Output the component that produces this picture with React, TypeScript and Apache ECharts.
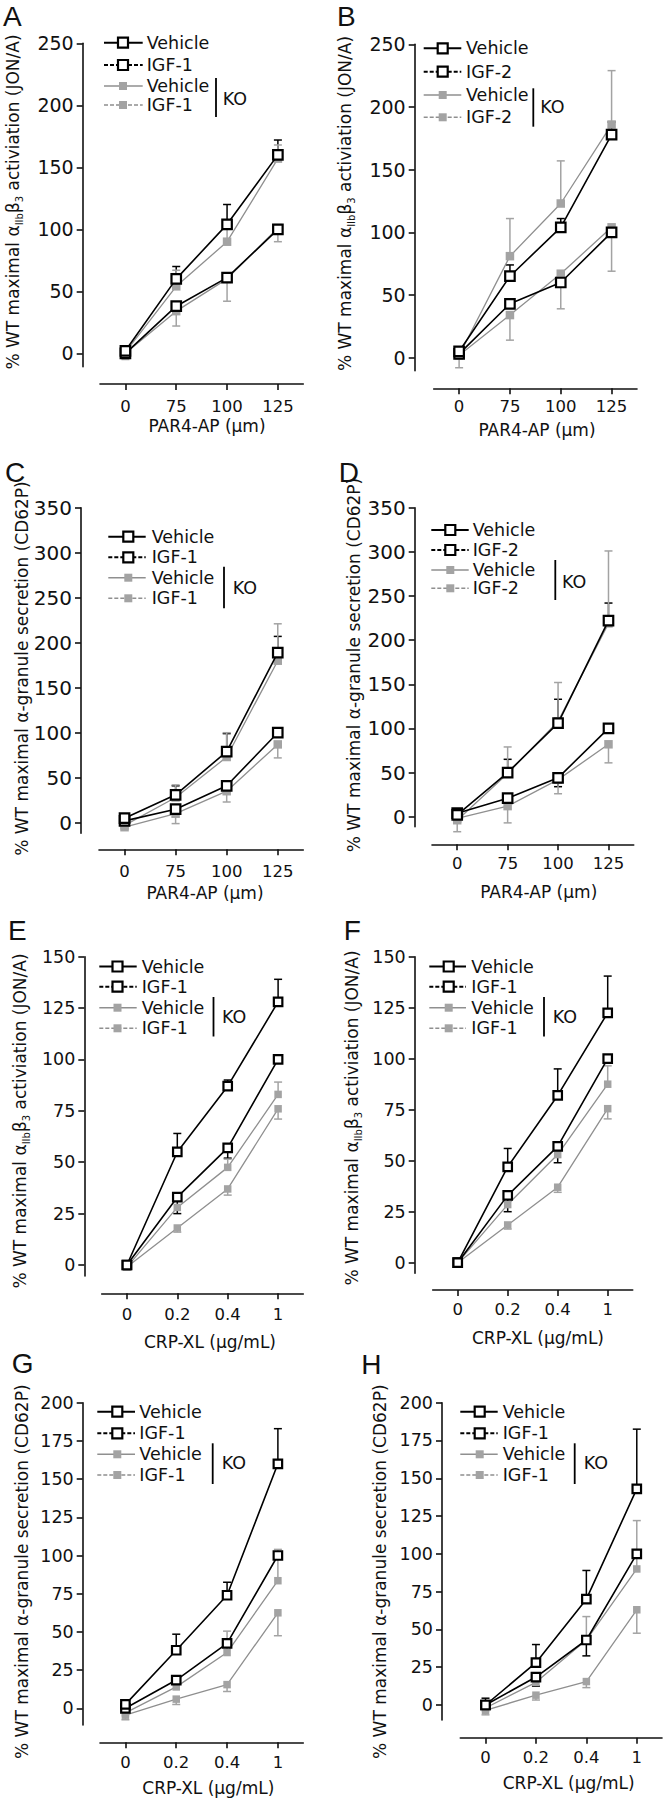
import React, { useEffect, useRef } from "react";
import * as echarts from "echarts";

const FONT = "DejaVu Sans";
const LETTER_FONT = "Liberation Sans";
const BLACK = "#111111";
const GRAY_FILL = "#a3a3a3";
const GRAY_LINE = "#8f8f8f";

// ---------- categories & ticks ----------
const PAR4_AP_DOSES = ["0", "75", "100", "125"];
const CRP_XL_DOSES = ["0", "0.2", "0.4", "1"];
const TICKS_250 = [0, 50, 100, 150, 200, 250];
const TICKS_350 = [0, 50, 100, 150, 200, 250, 300, 350];
const TICKS_150 = [0, 25, 50, 75, 100, 125, 150];
const TICKS_200 = [0, 25, 50, 75, 100, 125, 150, 175, 200];

// ---------- data (errors: + up, - down, 0 none) ----------
// A
const A_WT_VEHICLE = [0, 38, 61, 100];
const A_WT_VEHICLE_ERR = [0, 0, 0, 0];
const A_WT_IGF = [2, 60, 104, 160];
const A_WT_IGF_ERR = [0, 10, 16, 12];
const A_KO_VEHICLE = [0, 34, 60, 101];
const A_KO_VEHICLE_ERR = [-5, -12, -18, -11];
const A_KO_IGF = [1, 54, 90, 157];
const A_KO_IGF_ERR = [0, 13, 10, 11];
// B
const B_WT_VEHICLE = [3, 43, 60, 100];
const B_WT_VEHICLE_ERR = [0, 0, 0, 0];
const B_WT_IGF = [5, 65, 104, 178];
const B_WT_IGF_ERR = [0, 9, 7, 10];
const B_KO_VEHICLE = [2, 34, 67, 104];
const B_KO_VEHICLE_ERR = [-10, -20, -28, -35];
const B_KO_IGF = [2, 81, 123, 186];
const B_KO_IGF_ERR = [0, 30, 34, 43];
// C
const C_WT_VEHICLE = [2, 15, 41, 100];
const C_WT_VEHICLE_ERR = [0, 0, 0, 0];
const C_WT_IGF = [5, 31, 79, 189];
const C_WT_IGF_ERR = [0, 10, 20, 18];
const C_KO_VEHICLE = [-5, 10, 35, 87];
const C_KO_VEHICLE_ERR = [0, -11, -12, -15];
const C_KO_IGF = [-3, 28, 73, 180];
const C_KO_IGF_ERR = [0, 14, 27, 41];
// D
const D_WT_VEHICLE = [4, 21, 44, 100];
const D_WT_VEHICLE_ERR = [0, 0, -10, 0];
const D_WT_IGF = [2, 50, 106, 222];
const D_WT_IGF_ERR = [0, 15, 27, 20];
const D_KO_VEHICLE = [-2, 12, 42, 82];
const D_KO_VEHICLE_ERR = [-15, -19, -16, -21];
const D_KO_IGF = [-4, 49, 108, 219];
const D_KO_IGF_ERR = [0, 30, 44, 82];
// E
const E_WT_VEHICLE = [0, 33, 57, 100];
const E_WT_VEHICLE_ERR = [0, -8, -5, 0];
const E_WT_IGF = [0, 55, 87, 128];
const E_WT_IGF_ERR = [0, 9, 3, 11];
const E_KO_VEHICLE = [-1, 18, 37, 76];
const E_KO_VEHICLE_ERR = [0, -2, -3, -5];
const E_KO_IGF = [-1, 28, 47.5, 83];
const E_KO_IGF_ERR = [0, 0, 4, 6];
// F
const F_WT_VEHICLE = [0, 33, 57, 100];
const F_WT_VEHICLE_ERR = [0, -8, -8, 0];
const F_WT_IGF = [0, 47, 82, 122.5];
const F_WT_IGF_ERR = [0, 9, 13, 18];
const F_KO_VEHICLE = [0, 18.5, 37, 75.5];
const F_KO_VEHICLE_ERR = [0, -2, -2.5, -5];
const F_KO_IGF = [0, 28.5, 53, 87.5];
const F_KO_IGF_ERR = [0, 0, 0, 9];
// G
const G_WT_VEHICLE = [0, 18.5, 42.5, 100];
const G_WT_VEHICLE_ERR = [0, 0, 0, 0];
const G_WT_IGF = [2.6, 38, 74, 160];
const G_WT_IGF_ERR = [0, 10.5, 8.5, 23];
const G_KO_VEHICLE = [-4.5, 6, 15.5, 62.5];
const G_KO_VEHICLE_ERR = [-3, -3.5, -4.5, -15];
const G_KO_IGF = [-3, 14, 36.5, 83.5];
const G_KO_IGF_ERR = [0, 0, 14, 20.5];
// H
const H_WT_VEHICLE = [0, 18.5, 43, 100];
const H_WT_VEHICLE_ERR = [0, -6, -10.5, 0];
const H_WT_IGF = [0, 28, 70, 143];
const H_WT_IGF_ERR = [4.5, 12, 19, 39.5];
const H_KO_VEHICLE = [-3.5, 6.5, 15.5, 63];
const H_KO_VEHICLE_ERR = [-3, -3.2, -4, -15.5];
const H_KO_IGF = [-2, 15, 43, 90];
const H_KO_IGF_ERR = [0, 0, 15.5, 32];

const JON_NAME = "{n|% WT maximal α}{s|IIb}{n|β}{s|3}{n| activiation (JON/A)}";
const CD62P_NAME = "{n|% WT maximal α-granule secretion (CD62P)}";
const PAR4_NAME = "PAR4-AP (µm)";
const CRP_NAME = "CRP-XL (µg/mL)";

const PANELS = [
  { letter: "A", doses: PAR4_AP_DOSES, xName: PAR4_NAME, yName: JON_NAME, ticks: TICKS_250, treatment: "IGF-1",
    wv: A_WT_VEHICLE, wve: A_WT_VEHICLE_ERR, wi: A_WT_IGF, wie: A_WT_IGF_ERR, kv: A_KO_VEHICLE, kve: A_KO_VEHICLE_ERR, ki: A_KO_IGF, kie: A_KO_IGF_ERR },
  { letter: "B", doses: PAR4_AP_DOSES, xName: PAR4_NAME, yName: JON_NAME, ticks: TICKS_250, treatment: "IGF-2",
    wv: B_WT_VEHICLE, wve: B_WT_VEHICLE_ERR, wi: B_WT_IGF, wie: B_WT_IGF_ERR, kv: B_KO_VEHICLE, kve: B_KO_VEHICLE_ERR, ki: B_KO_IGF, kie: B_KO_IGF_ERR },
  { letter: "C", doses: PAR4_AP_DOSES, xName: PAR4_NAME, yName: CD62P_NAME, ticks: TICKS_350, treatment: "IGF-1",
    wv: C_WT_VEHICLE, wve: C_WT_VEHICLE_ERR, wi: C_WT_IGF, wie: C_WT_IGF_ERR, kv: C_KO_VEHICLE, kve: C_KO_VEHICLE_ERR, ki: C_KO_IGF, kie: C_KO_IGF_ERR },
  { letter: "D", doses: PAR4_AP_DOSES, xName: PAR4_NAME, yName: CD62P_NAME, ticks: TICKS_350, treatment: "IGF-2",
    wv: D_WT_VEHICLE, wve: D_WT_VEHICLE_ERR, wi: D_WT_IGF, wie: D_WT_IGF_ERR, kv: D_KO_VEHICLE, kve: D_KO_VEHICLE_ERR, ki: D_KO_IGF, kie: D_KO_IGF_ERR },
  { letter: "E", doses: CRP_XL_DOSES, xName: CRP_NAME, yName: JON_NAME, ticks: TICKS_150, treatment: "IGF-1",
    wv: E_WT_VEHICLE, wve: E_WT_VEHICLE_ERR, wi: E_WT_IGF, wie: E_WT_IGF_ERR, kv: E_KO_VEHICLE, kve: E_KO_VEHICLE_ERR, ki: E_KO_IGF, kie: E_KO_IGF_ERR },
  { letter: "F", doses: CRP_XL_DOSES, xName: CRP_NAME, yName: JON_NAME, ticks: TICKS_150, treatment: "IGF-1",
    wv: F_WT_VEHICLE, wve: F_WT_VEHICLE_ERR, wi: F_WT_IGF, wie: F_WT_IGF_ERR, kv: F_KO_VEHICLE, kve: F_KO_VEHICLE_ERR, ki: F_KO_IGF, kie: F_KO_IGF_ERR },
  { letter: "G", doses: CRP_XL_DOSES, xName: CRP_NAME, yName: CD62P_NAME, ticks: TICKS_200, treatment: "IGF-1",
    wv: G_WT_VEHICLE, wve: G_WT_VEHICLE_ERR, wi: G_WT_IGF, wie: G_WT_IGF_ERR, kv: G_KO_VEHICLE, kve: G_KO_VEHICLE_ERR, ki: G_KO_IGF, kie: G_KO_IGF_ERR },
  { letter: "H", doses: CRP_XL_DOSES, xName: CRP_NAME, yName: CD62P_NAME, ticks: TICKS_200, treatment: "IGF-1",
    wv: H_WT_VEHICLE, wve: H_WT_VEHICLE_ERR, wi: H_WT_IGF, wie: H_WT_IGF_ERR, kv: H_KO_VEHICLE, kve: H_KO_VEHICLE_ERR, ki: H_KO_IGF, kie: H_KO_IGF_ERR },
];

// ---------- layout (pixels) ----------
const ROWS_EF = [966.5, 986.7, 1007.7, 1028.3];
const ROWS_GH = [1411.7, 1433.3, 1454.3, 1475];
const LAYOUT = [
  { yAxisX: 82.7, top: 43.3, zero: 353.3, bottom: 366.7, xL: 100, xR: 303.3, xLineY: 384, xLabelCY: 407,
    xNameX: 207, xNameY: 426, yNameX: 13.3, yNameY: 202, letterX: 3, letterY: 16, yLabelSize: 19, sq: 9.5, gsq: 8.5,
    leg: { x0: 104, x1: 142.7, mx: 123, tx: 146.7, rows: [42.7, 65, 86, 105], koX: 216, koY0: 78, koY1: 117, koTx: 222.7, koTy: 99 } },
  { yAxisX: 414.7, top: 44.3, zero: 357.7, bottom: 370.7, xL: 433.7, xR: 637, xLineY: 388.3, xLabelCY: 407.3,
    xNameX: 537, xNameY: 430, yNameX: 345.3, yNameY: 203.5, letterX: 337, letterY: 16, yLabelSize: 19, sq: 9.5, gsq: 8.5,
    leg: { x0: 423.7, x1: 461.3, mx: 442.7, tx: 466, rows: [48.3, 71.7, 95, 117.3], koX: 533.3, koY0: 88.3, koY1: 126.7, koTx: 540.3, koTy: 107.3 } },
  { yAxisX: 81, top: 507.7, zero: 822.7, bottom: 833.3, xL: 99, xR: 303.3, xLineY: 849.3, xLabelCY: 871.7,
    xNameX: 205, xNameY: 893.3, yNameX: 21.7, yNameY: 668.5, letterX: 5, letterY: 472.5, yLabelSize: 20, sq: 9.5, gsq: 8.5,
    leg: { x0: 108.3, x1: 145.7, mx: 128.3, tx: 151.7, rows: [536.7, 557.3, 577.7, 598.3], koX: 224, koY0: 566.7, koY1: 608.3, koTx: 232.7, koTy: 587.7 } },
  { yAxisX: 414.7, top: 507.7, zero: 816.7, bottom: 826.7, xL: 432, xR: 633.7, xLineY: 844.3, xLabelCY: 864,
    xNameX: 538.7, xNameY: 891.7, yNameX: 353.7, yNameY: 665, letterX: 338.7, letterY: 472.5, yLabelSize: 20, sq: 9.5, gsq: 8.5,
    leg: { x0: 431.3, x1: 468.7, mx: 450.3, tx: 472.7, rows: [530, 550, 570, 588.3], koX: 555.3, koY0: 560, koY1: 600, koTx: 562, koTy: 581.7 } },
  { yAxisX: 84.3, top: 956.7, zero: 1265, bottom: 1276, xL: 101.7, xR: 303.3, xLineY: 1293.3, xLabelCY: 1315,
    xNameX: 210, xNameY: 1341.7, yNameX: 20, yNameY: 1121, letterX: 8, letterY: 930, yLabelSize: 17.5, sq: 8.5, gsq: 7.5,
    leg: { x0: 99.3, x1: 136.7, mx: 117.5, tx: 141.7, rows: ROWS_EF, koX: 213.5, koY0: 997, koY1: 1036.5, koTx: 222, koTy: 1016.7 } },
  { yAxisX: 414.7, top: 956.7, zero: 1262.7, bottom: 1273.3, xL: 432.7, xR: 632.7, xLineY: 1290, xLabelCY: 1310,
    xNameX: 538, xNameY: 1338, yNameX: 352, yNameY: 1118, letterX: 343.7, letterY: 930, yLabelSize: 17.5, sq: 8.5, gsq: 7.5,
    leg: { x0: 429.3, x1: 466, mx: 448.7, tx: 471.3, rows: ROWS_EF, koX: 544, koY0: 997, koY1: 1036.5, koTx: 552.7, koTy: 1016.7 } },
  { yAxisX: 82.7, top: 1402.7, zero: 1708.3, bottom: 1725, xL: 100, xR: 303.3, xLineY: 1742.3, xLabelCY: 1763.3,
    xNameX: 208.3, xNameY: 1788.3, yNameX: 21.7, yNameY: 1571.7, letterX: 11.7, letterY: 1363, yLabelSize: 17.5, sq: 8.5, gsq: 7.5,
    leg: { x0: 97.3, x1: 135, mx: 117.3, tx: 139.3, rows: ROWS_GH, koX: 212.7, koY0: 1443.3, koY1: 1484, koTx: 221.7, koTy: 1463.3 } },
  { yAxisX: 442, top: 1402.7, zero: 1705, bottom: 1720, xL: 460.3, xR: 662, xLineY: 1737.7, xLabelCY: 1758.3,
    xNameX: 568.7, xNameY: 1783.3, yNameX: 380.3, yNameY: 1571.7, letterX: 361.3, letterY: 1364, yLabelSize: 17.5, sq: 8.5, gsq: 7.5,
    leg: { x0: 460.3, x1: 497.7, mx: 479.7, tx: 502.7, rows: ROWS_GH, koX: 574.7, koY0: 1443.3, koY1: 1484, koTx: 583.7, koTy: 1463.3 } },
];

function txt(x: number, y: number, text: string, size: number, family: string, align: string) {
  return {
    type: "text", x, y, silent: true,
    style: { text, fontSize: size, fontFamily: family, fill: BLACK, align, verticalAlign: "middle" },
  };
}

function buildOption() {
  const grids: any[] = [];
  const xAxes: any[] = [];
  const yAxes: any[] = [];
  const series: any[] = [];
  const gfx: any[] = [];
  const axisLineStyle = { color: BLACK, width: 1.6 };

  PANELS.forEach((p, i) => {
    const L = LAYOUT[i];
    const max = p.ticks[p.ticks.length - 1];
    const ppu = (L.zero - L.top) / max;
    const min = -(L.bottom - L.zero) / ppu;

    grids.push({ left: L.xL, top: L.top, width: L.xR - L.xL, height: L.bottom - L.top });
    xAxes.push({
      type: "category", gridIndex: i, data: p.doses, boundaryGap: true,
      offset: L.xLineY - L.bottom,
      axisLine: { show: true, onZero: false, lineStyle: axisLineStyle },
      axisTick: { show: true, alignWithLabel: true, interval: 0, length: 6, lineStyle: axisLineStyle },
      axisLabel: { show: true, interval: 0, margin: L.xLabelCY - L.xLineY - 9, fontSize: 16.5, fontFamily: FONT, color: BLACK },
      splitLine: { show: false },
    });
    yAxes.push({
      type: "value", gridIndex: i, min, max,
      offset: L.xL - L.yAxisX,
      axisLine: { show: true, onZero: false, lineStyle: axisLineStyle },
      axisTick: { show: true, length: 6, customValues: p.ticks, lineStyle: axisLineStyle },
      axisLabel: { show: true, customValues: p.ticks, margin: 9, fontSize: L.yLabelSize, fontFamily: FONT, color: BLACK },
      splitLine: { show: false },
    });

    const groups = [
      { name: "WT Vehicle", vals: p.wv, err: p.wve, wt: true },
      { name: "WT " + p.treatment, vals: p.wi, err: p.wie, wt: true },
      { name: "KO Vehicle", vals: p.kv, err: p.kve, wt: false },
      { name: "KO " + p.treatment, vals: p.ki, err: p.kie, wt: false },
    ];

    groups.forEach((g) => {
      const col = g.wt ? "#000000" : GRAY_FILL;
      series.push({
        type: "custom", name: g.name + " error", xAxisIndex: i, yAxisIndex: i, z: 1, silent: true,
        encode: { x: 0, y: 1 },
        data: g.vals.map((v, j) => [j, v, g.err[j]]).filter((d) => d[2] !== 0),
        renderItem: (params: any, api: any) => {
          const c = api.value(0);
          const v = api.value(1);
          const e = api.value(2);
          const p0 = api.coord([c, v]);
          const p1 = api.coord([c, v + e]);
          return {
            type: "group",
            children: [
              { type: "line", shape: { x1: p0[0], y1: p0[1], x2: p1[0], y2: p1[1] }, style: { stroke: col, lineWidth: 1.5 } },
              { type: "line", shape: { x1: p1[0] - 4, y1: p1[1], x2: p1[0] + 4, y2: p1[1] }, style: { stroke: col, lineWidth: 1.5 } },
            ],
          };
        },
      });
    });

    groups.forEach((g) => {
      series.push({
        type: "line", name: g.name, xAxisIndex: i, yAxisIndex: i, data: g.vals,
        z: g.wt ? 4 : 3, silent: true,
        symbol: "rect", symbolSize: g.wt ? L.sq : L.gsq, showSymbol: true, showAllSymbol: true,
        itemStyle: g.wt ? { color: "#ffffff", borderColor: "#000000", borderWidth: 2.2 } : { color: GRAY_FILL, borderWidth: 0 },
        lineStyle: { color: g.wt ? "#000000" : GRAY_LINE, width: g.wt ? 1.6 : 1.3 },
        emphasis: { disabled: true },
      });
    });

    // panel letter
    gfx.push(txt(L.letterX, L.letterY, p.letter, 28, LETTER_FONT, "left"));
    // axis names
    gfx.push(txt(L.xNameX, L.xNameY, p.xName, 17, FONT, "center"));
    gfx.push({
      type: "text", x: L.yNameX, y: L.yNameY, rotation: Math.PI / 2, silent: true,
      style: {
        text: p.yName, align: "center", verticalAlign: "middle",
        rich: {
          n: { fontSize: 17, fontFamily: FONT, fill: BLACK, lineHeight: 22, verticalAlign: "middle" },
          s: { fontSize: 10, fontFamily: FONT, fill: BLACK, verticalAlign: "bottom" },
        },
      },
    });

    // legend
    const lg = L.leg;
    const labels = ["Vehicle", p.treatment, "Vehicle", p.treatment];
    labels.forEach((lab, k) => {
      const y = lg.rows[k];
      const wt = k < 2;
      const dashed = k % 2 === 1;
      gfx.push({
        type: "line", silent: true, shape: { x1: lg.x0, y1: y, x2: lg.x1, y2: y },
        style: { stroke: wt ? "#000000" : GRAY_LINE, lineWidth: wt ? 2 : 1.5, lineDash: dashed ? [4, 2] : null },
      });
      if (wt) {
        gfx.push({ type: "rect", silent: true, shape: { x: lg.mx - 5, y: y - 5, width: 10, height: 10 }, style: { fill: "#ffffff", stroke: "#000000", lineWidth: 2.2 } });
      } else {
        gfx.push({ type: "rect", silent: true, shape: { x: lg.mx - 4, y: y - 4, width: 8, height: 8 }, style: { fill: GRAY_FILL } });
      }
      gfx.push(txt(lg.tx, y, lab, 17.5, FONT, "left"));
    });
    gfx.push({ type: "line", silent: true, shape: { x1: lg.koX, y1: lg.koY0, x2: lg.koX, y2: lg.koY1 }, style: { stroke: "#000000", lineWidth: 1.8 } });
    gfx.push(txt(lg.koTx, lg.koTy, "KO", 17.5, FONT, "left"));
  });

  return {
    animation: false,
    backgroundColor: "#ffffff",
    grid: grids,
    xAxis: xAxes,
    yAxis: yAxes,
    series,
    graphic: { elements: gfx },
  };
}

export default function App() {
  const ref = useRef<HTMLDivElement>(null);
  useEffect(() => {
    if (!ref.current) return;
    const chart = echarts.init(ref.current, null, { renderer: "svg" });
    chart.setOption(buildOption() as any);
    return () => chart.dispose();
  }, []);
  return (
    <div
      ref={ref}
      style={{ position: "absolute", left: 0, top: 0, width: 663, height: 1801, background: "#fff" }}
    />
  );
}
